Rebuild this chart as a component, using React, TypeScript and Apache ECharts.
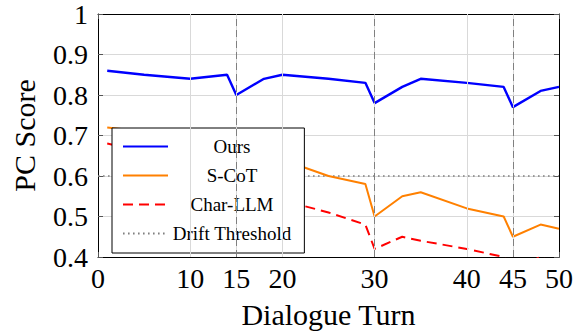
import React, { useEffect, useRef } from "react";
import * as echarts from "echarts";

const turns = [1, 5, 10, 14, 15, 18, 20, 25, 29, 30, 33, 35, 40, 44, 45, 48, 50];
const ours = [0.86, 0.85, 0.84, 0.85, 0.80, 0.84, 0.85, 0.84, 0.83, 0.78, 0.82, 0.84, 0.83, 0.82, 0.77, 0.81, 0.82];
const scot = [0.72, 0.71, 0.70, 0.69, 0.63, 0.65, 0.64, 0.60, 0.58, 0.50, 0.55, 0.56, 0.52, 0.50, 0.45, 0.48, 0.47];
const charLLM = [0.68, 0.66, 0.64, 0.62, 0.55, 0.56, 0.54, 0.51, 0.48, 0.42, 0.45, 0.44, 0.42, 0.40, 0.37, 0.40, 0.38];
const driftThreshold = 0.6;
const xTicks = [0, 10, 15, 20, 30, 40, 45, 50];
const phaseTurns = [15, 30, 45];
const seriesNames = ["Ours", "S-CoT", "Char-LLM", "Drift Threshold"];

const FONT = "Liberation Serif";

export default function App() {
  const ref = useRef<HTMLDivElement>(null);
  useEffect(() => {
    if (!ref.current) return;
    const chart = echarts.init(ref.current, undefined, { renderer: "svg" });
    const pair = (ys: number[]) => turns.map((t, i) => [t, ys[i]]);
    const gridLines = xTicks
      .filter((t) => t > 0 && t < 50)
      .map((t) => ({ xAxis: t, lineStyle: { color: "#d9d9d9", width: 1, type: "solid" } }));
    const phaseLines = phaseTurns.map((t) => ({
      xAxis: t,
      lineStyle: { color: "#808080", width: 1, type: [7, 4] },
    }));
    const tickStyle = { inside: true, length: 5, lineStyle: { color: "#555", width: 1 } };
    chart.setOption({
      animation: false,
      textStyle: { fontFamily: FONT },
      grid: { left: 98, top: 14, width: 463, height: 243 },
      xAxis: [
        {
          type: "value",
          min: 0,
          max: 50,
          name: "Dialogue Turn",
          nameLocation: "middle",
          nameGap: 42,
          nameTextStyle: { fontFamily: FONT, fontSize: 30, color: "#000" },
          axisLine: { show: true, onZero: false, lineStyle: { color: "#000", width: 1 } },
          axisTick: { ...tickStyle, customValues: xTicks },
          axisLabel: {
            customValues: xTicks,
            fontFamily: FONT,
            fontSize: 28,
            color: "#000",
            margin: 7,
          },
          splitLine: { show: false },
        },
        {
          type: "value",
          position: "top",
          min: 0,
          max: 50,
          axisLine: { show: true, onZero: false, lineStyle: { color: "#000", width: 1 } },
          axisTick: { ...tickStyle, customValues: xTicks },
          axisLabel: { show: false },
          splitLine: { show: false },
        },
      ],
      yAxis: [
        {
          type: "value",
          min: 0.4,
          max: 1,
          interval: 0.1,
          name: "PC Score",
          nameLocation: "middle",
          nameGap: 59,
          nameTextStyle: { fontFamily: FONT, fontSize: 30, color: "#000" },
          axisLine: { show: true, onZero: false, lineStyle: { color: "#000", width: 1 } },
          axisTick: tickStyle,
          axisLabel: {
            fontFamily: FONT,
            fontSize: 28,
            color: "#000",
            margin: 10,
            formatter: (v: number) => String(parseFloat(v.toFixed(1))),
          },
          splitLine: { show: true, lineStyle: { color: "#d9d9d9", width: 1 } },
        },
        {
          type: "value",
          position: "right",
          min: 0.4,
          max: 1,
          interval: 0.1,
          axisLine: { show: true, onZero: false, lineStyle: { color: "#000", width: 1 } },
          axisTick: tickStyle,
          axisLabel: { show: false },
          splitLine: { show: false },
        },
      ],
      legend: {
        data: seriesNames,
        orient: "vertical",
        left: 112,
        top: 128,
        padding: [9, 13, 10, 10],
        itemWidth: 45,
        itemHeight: 18,
        itemGap: 10,
        backgroundColor: "#fff",
        borderColor: "#000",
        borderWidth: 1,
        borderRadius: 0,
        itemStyle: { opacity: 0 },
        formatter: (name: string) => `{t|${name}}`,
        textStyle: {
          fontFamily: FONT,
          rich: {
            t: { width: 118, align: "center", fontFamily: FONT, fontSize: 19, color: "#000", lineHeight: 18 },
          },
        },
      },
      series: [
        {
          name: "Drift Threshold",
          type: "line",
          symbol: "none",
          data: [
            [0, driftThreshold],
            [50, driftThreshold],
          ],
          lineStyle: { color: "#808080", width: 1.6, type: [1.6, 3.4] },
          itemStyle: { color: "#808080" },
          markLine: {
            silent: true,
            symbol: ["none", "none"],
            label: { show: false },
            data: [...gridLines, ...phaseLines],
          },
          z: 1,
        },
        {
          name: "Ours",
          type: "line",
          symbol: "none",
          data: pair(ours),
          lineStyle: { color: "#0000ff", width: 2.4 },
          itemStyle: { color: "#0000ff" },
          z: 3,
        },
        {
          name: "S-CoT",
          type: "line",
          symbol: "none",
          data: pair(scot),
          lineStyle: { color: "#ff8000", width: 2 },
          itemStyle: { color: "#ff8000" },
          z: 3,
        },
        {
          name: "Char-LLM",
          type: "line",
          symbol: "none",
          data: pair(charLLM),
          lineStyle: { color: "#ff0000", width: 2, type: [10, 6] },
          itemStyle: { color: "#ff0000" },
          z: 3,
        },
      ],
    });
    return () => chart.dispose();
  }, []);
  return (
    <div
      ref={ref}
      style={{ position: "fixed", left: 0, top: 0, width: 576, height: 334, background: "#fff" }}
    />
  );
}
